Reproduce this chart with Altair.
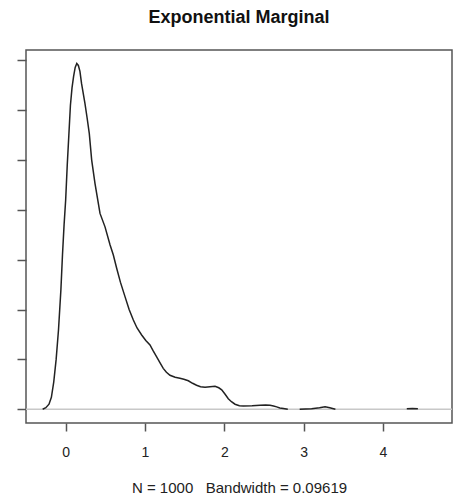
import altair as alt
import pandas as pd

# Main density curve (x, density)
main_x = [-0.29, -0.25, -0.21, -0.18, -0.15, -0.12, -0.09, -0.06, -0.04, -0.02,
          0.0, 0.02, 0.04, 0.06, 0.08, 0.10, 0.12, 0.14, 0.16, 0.18,
          0.20, 0.243, 0.27, 0.298, 0.328, 0.37, 0.433, 0.496, 0.559, 0.60,
          0.643, 0.69, 0.75, 0.80, 0.853, 0.90, 0.958, 1.01, 1.063, 1.10,
          1.147, 1.19, 1.23, 1.27, 1.315, 1.38, 1.44, 1.49, 1.546, 1.60,
          1.65, 1.70, 1.757, 1.82, 1.883, 1.93, 1.967, 2.01, 2.05, 2.09,
          2.135, 2.19, 2.24, 2.35, 2.45, 2.52, 2.576, 2.62, 2.66, 2.70,
          2.745, 2.80]
main_y = [0.0, 0.003, 0.010, 0.024, 0.055, 0.10, 0.16, 0.24, 0.31, 0.37,
          0.42, 0.49, 0.55, 0.61, 0.645, 0.668, 0.686, 0.694, 0.690, 0.678,
          0.654, 0.614, 0.585, 0.553, 0.50, 0.453, 0.393, 0.366, 0.33, 0.31,
          0.283, 0.255, 0.225, 0.20, 0.179, 0.163, 0.149, 0.138, 0.129, 0.118,
          0.105, 0.093, 0.082, 0.074, 0.068, 0.064, 0.062, 0.060, 0.057, 0.052,
          0.048, 0.045, 0.044, 0.045, 0.046, 0.043, 0.039, 0.030, 0.021, 0.015,
          0.010, 0.007, 0.0065, 0.007, 0.008, 0.0082, 0.008, 0.0065, 0.0047, 0.0025,
          0.0013, 0.0]
# Small bump near 3.3
bump1_x = [2.95, 3.10, 3.20, 3.27, 3.33, 3.40]
bump1_y = [0.0, 0.001, 0.003, 0.005, 0.003, 0.0]
# Tiny bump near 4.4
bump2_x = [4.30, 4.37, 4.44]
bump2_y = [0.001, 0.0015, 0.001]

x_ticks = [0, 1, 2, 3, 4]
y_ticks = [0.0, 0.1, 0.2, 0.3, 0.4, 0.5, 0.6, 0.7]

title_text = "Exponential Marginal"
sub_text = "N = 1000\u00a0\u00a0\u00a0Bandwidth = 0.09619"

rows = []
for seg, xs, ys in [("a", main_x, main_y), ("b", bump1_x, bump1_y), ("c", bump2_x, bump2_y)]:
    for xv, yv in zip(xs, ys):
        rows.append({"seg": seg, "x": xv, "y": yv})
df = pd.DataFrame(rows)

FONT = "Liberation Sans"

xscale = alt.Scale(domain=[-0.5, 4.87], nice=False, zero=False)
yscale = alt.Scale(domain=[-0.0277, 0.721], nice=False, zero=False)

xaxis = alt.Axis(values=x_ticks, format="d", grid=False, domain=False,
                 tickSize=8, tickColor="#555", tickWidth=1.5,
                 labelFont=FONT, labelFontSize=14, labelColor="#222",
                 labelBaseline="alphabetic", labelPadding=25, labelFlush=False,
                 title=sub_text, titleFont=FONT, titleFontSize=15,
                 titleFontWeight="normal", titleColor="#222",
                 titleBaseline="alphabetic", titleY=69)
yaxis = alt.Axis(values=y_ticks, grid=False, domain=False, labels=False,
                 tickSize=9, tickColor="#555", tickWidth=1.5, title=None)

zero = alt.Chart(pd.DataFrame({"z": [0.0]})).mark_rule(
    color="#c8c8c8", strokeWidth=1.5
).encode(y=alt.Y("z:Q", scale=yscale, axis=yaxis))

line = alt.Chart(df).mark_line(color="#222222", strokeWidth=1.5).encode(
    x=alt.X("x:Q", scale=xscale, axis=xaxis),
    y=alt.Y("y:Q", scale=yscale, axis=yaxis),
    detail="seg:N",
)

chart = alt.layer(zero, line).properties(
    width=426, height=373,
    background="white",
    autosize=alt.AutoSizeParams(type="none"),
    padding={"left": 26, "top": 50, "right": 9, "bottom": 72},
    title=alt.TitleParams(title_text, font=FONT, fontSize=18, fontWeight="bold",
                          color="#111", anchor="middle", baseline="alphabetic",
                          offset=9),
).configure_view(stroke="#555", strokeWidth=1.5)

chart.save("out.html", embed_options={"renderer": "svg", "actions": False})
